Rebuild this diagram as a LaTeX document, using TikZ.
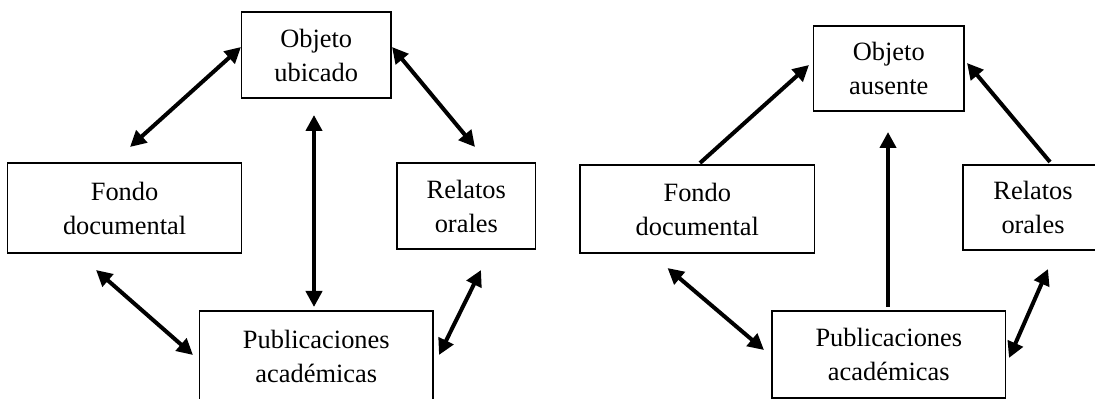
\documentclass[tikz,border=0pt]{standalone}
\usepackage{fontspec}
\setmainfont{Liberation Serif}
\usetikzlibrary{arrows.meta}
\begin{document}
\begin{tikzpicture}[x=0.5pt,y=-0.5pt,
  box/.style={draw, line width=0.7pt, inner sep=0pt, align=center,
    font=\fontsize{13.2pt}{17pt}\selectfont},
  link/.style={line width=2pt, {Triangle[length=8pt,width=8pt]}-{Triangle[length=8pt,width=8pt]}},
  oneway/.style={line width=2pt, -{Triangle[length=8pt,width=8pt]}}]
\useasboundingbox (0,0) rectangle (1095,399);
\fill[white] (0,0) rectangle (1095,399);
\clip (0,0) rectangle (1095,399);
% left panel
\node[box, minimum width=74.75pt, minimum height=43pt] (oU) at (316.25,55) {Objeto\\ubicado};
\node[box, minimum width=116.9pt, minimum height=45pt] (fL) at (124.6,208) {Fondo\\documental};
\node[box, minimum width=69.25pt, minimum height=43pt] (rL) at (466.3,206) {Relatos\\orales};
\node[box, minimum width=116.75pt, minimum height=45pt] (pL) at (316.3,356) {Publicaciones\\académicas};
% right panel
\node[box, minimum width=75.25pt, minimum height=42.5pt] (oR) at (888.8,68.5) {Objeto\\ausente};
\node[box, minimum width=117.25pt, minimum height=44pt] (fR) at (697.3,209) {Fondo\\documental};
\node[box, minimum width=70pt, minimum height=42.5pt] (rR) at (1033,207.5) {Relatos\\orales};
\node[box, minimum width=116.8pt, minimum height=43.5pt] (pR) at (888.8,354.5) {Publicaciones\\académicas};
% connector ends, left
\coordinate (a1) at (241,47);  \coordinate (b1) at (130,147);
\coordinate (a2) at (392,47);  \coordinate (b2) at (475,147);
\coordinate (a3) at (314,115); \coordinate (b3) at (314,307);
\coordinate (a4) at (96,270);  \coordinate (b4) at (193,355);
\coordinate (a5) at (481,270); \coordinate (b5) at (439,355);
% connector ends, right
\coordinate (c1) at (700,163); \coordinate (d1) at (809,65);
\coordinate (c2) at (1050,162);\coordinate (d2) at (967,63);
\coordinate (c3) at (888,307); \coordinate (d3) at (888,132);
\coordinate (c4) at (667.5,268);\coordinate (d4) at (764,350);
\coordinate (c5) at (1048,269);\coordinate (d5) at (1009,358);
\draw[link] (a1) -- (b1);
\draw[link] (a2) -- (b2);
\draw[link] (a3) -- (b3);
\draw[link] (a4) -- (b4);
\draw[link] (a5) -- (b5);
\draw[oneway] (c1) -- (d1);
\draw[oneway] (c2) -- (d2);
\draw[oneway] (c3) -- (d3);
\draw[link] (c4) -- (d4);
\draw[link] (c5) -- (d5);
\end{tikzpicture}
\end{document}
